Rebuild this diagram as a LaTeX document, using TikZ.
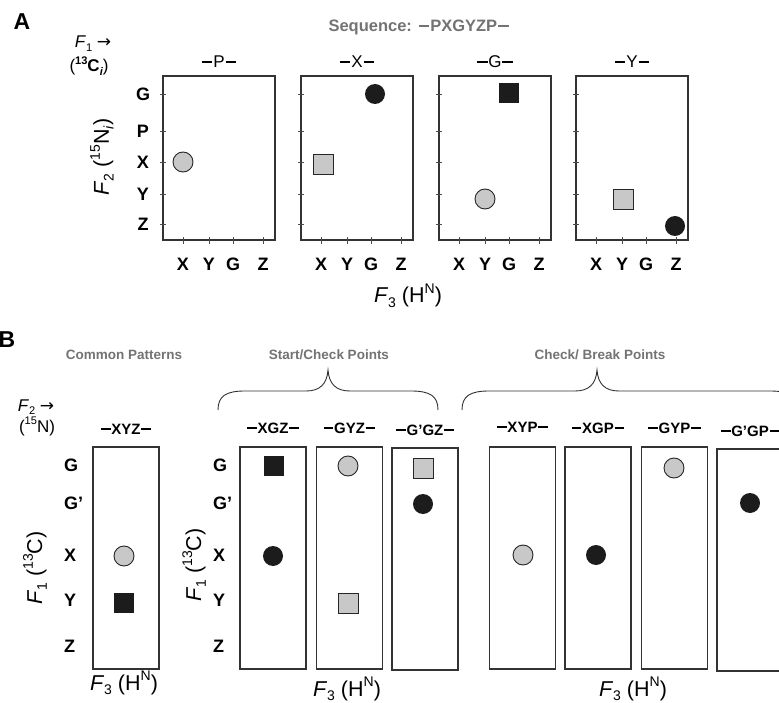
\documentclass[tikz,border=0pt]{standalone}
\usepackage{fontspec}
\setmainfont{Liberation Sans}
\newfontfamily\arrowfont{DejaVu Sans}
\usepackage{graphicx}

\definecolor{spotgray}{RGB}{200,200,200}
\definecolor{spotblack}{RGB}{28,28,28}
\definecolor{headgray}{RGB}{115,115,115}

\newcommand\sz[1]{\fontsize{#1}{#1}\selectfont}
\newcommand\hy{\kern.05em\rule[.31em]{.62em}{.075em}\kern.05em}
\newcommand\bhy{\kern.05em\rule[.3em]{.64em}{.1em}\kern.05em}
\newcommand\up[1]{\raisebox{.42em}{\scalebox{.65}{#1}}}
\newcommand\dn[1]{\raisebox{-.22em}{\scalebox{.65}{#1}}}
\newcommand\ra{{\arrowfont →}}

\tikzset{
  panel/.style={draw=black!80, line width=1.2pt, inner sep=0pt},
  spec/.style={panel, minimum width=112pt, minimum height=164pt},
  strip/.style={panel, minimum width=66pt, minimum height=222pt},
  gcirc/.style={circle, draw=black!85, line width=0.9pt, fill=spotgray, minimum size=20pt, inner sep=0pt},
  bcirc/.style={circle, fill=spotblack, minimum size=20pt, inner sep=0pt},
  gsq/.style={rectangle, draw=black!85, line width=0.9pt, fill=spotgray, minimum size=20pt, inner sep=0pt},
  bsq/.style={rectangle, fill=spotblack, minimum size=20pt, inner sep=0pt},
  axtick/.style={draw=black!70, line width=0.9pt},
  reslab/.style={font=\sz{18}\bfseries, inner sep=0pt},
  seqlab/.style={font=\sz{17}, anchor=base, inner sep=0pt},
  collab/.style={font=\sz{15}\bfseries, anchor=base, inner sep=0pt},
  grouplab/.style={font=\sz{13.5}\bfseries, text=headgray, anchor=base, inner sep=0pt},
  dimlab/.style={font=\sz{21.5}, inner sep=0pt},
  panellab/.style={font=\sz{23}\bfseries, anchor=base, inner sep=0pt},
  brace/.style={draw=black!80, line width=0.9pt}
}

\begin{document}
\begin{tikzpicture}[x=1pt, y=-1pt]
    \useasboundingbox (0,0) rectangle (779,703);
    \clip (0,0) rectangle (779,703);

    % Panel A: headings
    \node[panellab] (pA) at (22,30) {A};
    \node[font=\sz{16.5}\bfseries, text=headgray, anchor=base, inner sep=0pt] (seqhead) at (419,32) {Sequence: \bhy PXGYZP\bhy};
    \node[seqlab] (f1a) at (93,48) {\textit{F}\dn{1} \ra};
    \node[seqlab] (c13a) at (89,72) {(\up{\bfseries 13}\textbf{C}\dn{\bfseries\itshape i})};

    % Panel A: spectra with ticks
    \foreach \n/\cx/\r in {1/219/P, 2/357/X, 3/495/G, 4/632/Y} {
        \node[spec] (s\n) at (\cx,158) {};
        \node[seqlab] (ttl\n) at (\cx,68) {\hy \r\hy};
        \foreach \y in {94,131,162,194,224}
            \draw[axtick] (\cx-59,\y) -- (\cx-53,\y);
        \foreach \d/\l in {20/X, 46/Y, 70/G, 100/Z} {
            \draw[axtick] (\cx-56+\d,244) -- (\cx-56+\d,237);
            \node[reslab] (t\n\l) at (\cx-56+\d,264) {\l};
        }
    }
    \foreach \y/\l in {94/G, 131/P, 162/X, 194/Y, 224/Z}
        \node[reslab] (r\l) at (143,\y) {\l};

    % Panel A: peaks
    \node[gcirc] (a1x) at (183,162) {};
    \node[gsq]   (a2x) at (323,164) {};
    \node[bcirc] (a2g) at (375,94) {};
    \node[bsq]   (a3g) at (509,93) {};
    \node[gcirc] (a3y) at (485,199) {};
    \node[gsq]   (a4y) at (623,199) {};
    \node[bcirc] (a4z) at (675,226) {};

    % Panel A: axis titles
    \node[dimlab, rotate=90] (f2a) at (102,157) {\textit{F}\dn{2} (\up{15}N\dn{\itshape i})};
    \node[dimlab, anchor=base] (f3a) at (408,303) {\textit{F}\dn{3} (H\up{N})};

    % Panel B: headings
    \node[panellab] (pB) at (7,348) {B};
    \node[grouplab] (common) at (124,359.5) {Common Patterns};
    \node[grouplab] (start) at (329,359.5) {Start/Check Points};
    \node[grouplab] (break) at (600,359.5) {Check/ Break Points};
    \node[seqlab] (f2b) at (36,411) {\textit{F}\dn{2} \ra};
    \node[seqlab] (n15b) at (37,432) {(\up{15}N)};

    % Panel B: braces
    \draw[brace] (218,410) .. controls (218,396) and (226,391) .. (245,391) -- (306,391)
        .. controls (320,391) and (327,384) .. (328,370)
        .. controls (329,384) and (336,391) .. (350,391) -- (411,391)
        .. controls (430,391) and (438,396) .. (438,410);
    \draw[brace] (462,410) .. controls (462,396) and (470,391) .. (489,391) -- (575,391)
        .. controls (589,391) and (596,384) .. (597,370)
        .. controls (598,384) and (605,391) .. (619,391) -- (770,391)
        .. controls (789,391) and (797,396) .. (797,410);

    % Panel B: strips
    \foreach \nm/\cx/\cy/\txt/\by in {xyz/126/558/XYZ/434, xgz/273/558/XGZ/433, gyz/349.5/558/GYZ/433,
        ggz/425/559/G’GZ/435, xyp/522.5/558/XYP/432, xgp/598/558/XGP/433,
        gyp/674.5/558/GYP/433, ggp/750/560/G’GP/436} {
        \node[strip] (b\nm) at (\cx,\cy) {};
        \node[collab] (c\nm) at (\cx,\by) {\bhy\txt\bhy};
    }
    \foreach \y/\l in {465/G, 503/G’, 555/X, 600/Y, 646/Z} {
        \node[reslab, anchor=west] (la\l) at (64,\y) {\l};
        \node[reslab, anchor=west] (lb\l) at (213,\y) {\l};
    }

    % Panel B: peaks
    \node[gcirc] (pxyzx) at (124,556) {};
    \node[bsq]   (pxyzy) at (124,603) {};
    \node[bsq]   (pxgzg) at (274,466) {};
    \node[bcirc] (pxgzx) at (273,556) {};
    \node[gcirc] (pgyzg) at (348,466) {};
    \node[gsq]   (pgyzy) at (348,603) {};
    \node[gsq]   (pggzg) at (423,468) {};
    \node[bcirc] (pggzp) at (423,504) {};
    \node[gcirc] (pxypx) at (523,555) {};
    \node[bcirc] (pxgpx) at (596,555) {};
    \node[gcirc] (pgypg) at (674,468) {};
    \node[bcirc] (pggpp) at (750,503) {};

    % Panel B: axis titles
    \node[dimlab, rotate=90] (f1b) at (35,568) {\textit{F}\dn{1} (\up{13}C)};
    \node[dimlab, rotate=90] (f1c) at (194,565) {\textit{F}\dn{1} (\up{13}C)};
    \node[dimlab, anchor=base] (f3b) at (124,690) {\textit{F}\dn{3} (H\up{N})};
    \node[dimlab, anchor=base] (f3c) at (347,696) {\textit{F}\dn{3} (H\up{N})};
    \node[dimlab, anchor=base] (f3d) at (633,696) {\textit{F}\dn{3} (H\up{N})};
\end{tikzpicture}
\end{document}
